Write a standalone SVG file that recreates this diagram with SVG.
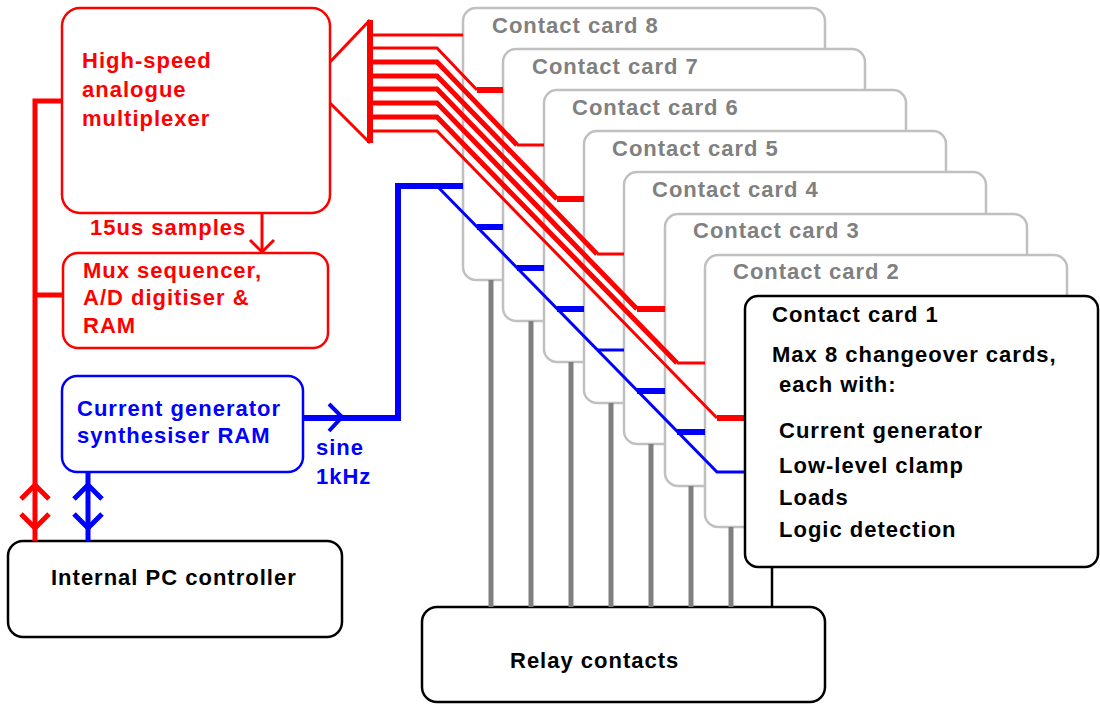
<svg xmlns="http://www.w3.org/2000/svg" width="1100" height="704" viewBox="0 0 1100 704">
<style>
text{font-family:"Liberation Sans",Arial,sans-serif;font-weight:bold;font-size:22px;letter-spacing:1px}
.r{fill:#ff0000}.b{fill:#0000ff}.k{fill:#000000}.g{fill:#808080}
.card{fill:#ffffff;stroke:#c0c0c0;stroke-width:2.5}
.rl{stroke:#ff0000;fill:none;stroke-linejoin:miter}
.bl{stroke:#0000ff;fill:none}
.gl{stroke:#808080;stroke-width:5}
</style>
<rect width="1100" height="704" fill="#ffffff"/>

<g id="mux">
<rect x="62" y="8" width="268" height="205" rx="18" fill="#ffffff" stroke="#ff0000" stroke-width="2.5"/>
<text class="r" x="82" y="68">High-speed</text>
<text class="r" x="82" y="97">analogue</text>
<text class="r" x="82" y="126">multiplexer</text>
</g>
<g id="sequencer">
<rect x="63" y="253" width="265" height="95" rx="15" fill="#ffffff" stroke="#ff0000" stroke-width="2.5"/>
<text class="r" x="83" y="278">Mux sequencer,</text>
<text class="r" x="83" y="305">A/D digitiser &amp;</text>
<text class="r" x="83" y="333">RAM</text>
</g>
<g id="generator">
<rect x="62" y="376" width="241" height="96" rx="15" fill="#ffffff" stroke="#0000ff" stroke-width="2.5"/>
<text class="b" x="77" y="416">Current generator</text>
<text class="b" x="77" y="443">synthesiser RAM</text>
</g>
<g id="pc">
<rect x="8" y="541" width="334" height="96" rx="15" fill="#ffffff" stroke="#000000" stroke-width="2.5"/>
<text class="k" x="51" y="585">Internal PC controller</text>
</g>
<g id="relay">
<rect x="422" y="607" width="403" height="95" rx="15" fill="#ffffff" stroke="#000000" stroke-width="2.5"/>
<text class="k" x="510" y="668">Relay contacts</text>
</g>

<g id="card8"><rect class="card" x="463" y="8" width="362" height="272" rx="13"/><text class="g" x="492" y="33">Contact card 8</text></g>
<g id="card7"><rect class="card" x="503" y="49" width="362" height="272" rx="13"/><text class="g" x="532" y="74">Contact card 7</text></g>
<g id="card6"><rect class="card" x="544" y="90" width="362" height="272" rx="13"/><text class="g" x="572" y="115">Contact card 6</text></g>
<g id="card5"><rect class="card" x="584" y="131" width="362" height="272" rx="13"/><text class="g" x="612" y="156">Contact card 5</text></g>
<g id="card4"><rect class="card" x="624" y="172" width="362" height="272" rx="13"/><text class="g" x="652" y="197">Contact card 4</text></g>
<g id="card3"><rect class="card" x="665" y="214" width="362" height="272" rx="13"/><text class="g" x="693" y="238">Contact card 3</text></g>
<g id="card2"><rect class="card" x="705" y="255" width="362" height="272" rx="13"/><text class="g" x="733" y="279">Contact card 2</text></g>

<g id="connectors">
<!-- red bus -->
<polyline class="rl" stroke-width="5" points="62,101 35,101 35,541"/>
<line class="rl" stroke-width="5" x1="35" y1="295" x2="63" y2="295"/>
<polyline class="rl" stroke-width="5" points="21,499 35,485 49,499"/>
<polyline class="rl" stroke-width="5" points="21,514 35,528 49,514"/>
<!-- blue bus -->
<line class="bl" stroke-width="5" x1="88" y1="472" x2="88" y2="541"/>
<polyline class="bl" stroke-width="5" points="74,499 88,485 102,499"/>
<polyline class="bl" stroke-width="5" points="74,514 88,528 102,514"/>
<!-- mux to sequencer -->
<line class="rl" stroke-width="3" x1="262" y1="213" x2="262" y2="252"/>
<polyline class="rl" stroke-width="3" points="250,240 262,252 274,240"/>
<!-- trapezoid -->
<polyline class="rl" stroke-width="3" points="330,62 370,20"/>
<polyline class="rl" stroke-width="3" points="330,103 370,143"/>
<line class="rl" stroke-width="6" x1="370" y1="20" x2="370" y2="143"/>
<!-- red lines -->
<line class="rl" stroke-width="3" x1="370" y1="35" x2="463" y2="35"/>
<polyline class="rl" stroke-width="3" points="370,48 437,48 477,90"/>
<line class="rl" stroke-width="6" x1="477" y1="90" x2="503" y2="90"/>
<polyline class="rl" stroke-width="5" points="370,62 437,62 517,145"/>
<line class="rl" stroke-width="3" x1="517" y1="145" x2="544" y2="145"/>
<polyline class="rl" stroke-width="5" points="370,76 437,76 557,199"/>
<line class="rl" stroke-width="6" x1="557" y1="199" x2="584" y2="199"/>
<polyline class="rl" stroke-width="5" points="370,89 437,89 597,254"/>
<line class="rl" stroke-width="3" x1="597" y1="254" x2="624" y2="254"/>
<polyline class="rl" stroke-width="5" points="370,103 437,103 637,309"/>
<line class="rl" stroke-width="6" x1="637" y1="309" x2="665" y2="309"/>
<polyline class="rl" stroke-width="5" points="370,117 437,117 677,363"/>
<line class="rl" stroke-width="3" x1="677" y1="363" x2="705" y2="363"/>
<polyline class="rl" stroke-width="3" points="370,131 437,131 717,418"/>
<line class="rl" stroke-width="6" x1="717" y1="418" x2="745" y2="418"/>
<!-- blue sine line -->
<polyline class="bl" stroke-width="6" points="303,418 398,418 398,186 463,186"/>
<polyline class="bl" stroke-width="4" points="329,404 342,417 329,431"/>
<polyline class="bl" stroke-width="3" points="437,186 717,472 745,472"/>
<line class="bl" stroke-width="6" x1="477" y1="227" x2="503" y2="227"/>
<line class="bl" stroke-width="6" x1="517" y1="268" x2="544" y2="268"/>
<line class="bl" stroke-width="6" x1="557" y1="309" x2="584" y2="309"/>
<line class="bl" stroke-width="3" x1="597" y1="350" x2="624" y2="350"/>
<line class="bl" stroke-width="6" x1="637" y1="391" x2="665" y2="391"/>
<line class="bl" stroke-width="6" x1="677" y1="432" x2="705" y2="432"/>
<!-- relay lines -->
<line class="gl" x1="491" y1="280" x2="491" y2="607"/>
<line class="gl" x1="531" y1="321" x2="531" y2="607"/>
<line class="gl" x1="571" y1="362" x2="571" y2="607"/>
<line class="gl" x1="611" y1="403" x2="611" y2="607"/>
<line class="gl" x1="651" y1="444" x2="651" y2="607"/>
<line class="gl" x1="691" y1="486" x2="691" y2="607"/>
<line class="gl" x1="731" y1="527" x2="731" y2="607"/>
<line stroke="#000000" stroke-width="2.5" x1="772" y1="567" x2="772" y2="607"/>
</g>

<g id="labels">
<text class="r" x="90" y="235">15us samples</text>
<text class="b" x="316" y="455">sine</text>
<text class="b" x="316" y="484">1kHz</text>
</g>

<g id="card1">
<rect x="745" y="296" width="353" height="271" rx="13" fill="#ffffff" stroke="#000000" stroke-width="2.5"/>
<text class="k" x="772" y="322">Contact card 1</text>
<text class="k" x="772" y="362">Max 8 changeover cards,</text>
<text class="k" x="779" y="392">each with:</text>
<text class="k" x="779" y="438">Current generator</text>
<text class="k" x="779" y="473">Low-level clamp</text>
<text class="k" x="779" y="505">Loads</text>
<text class="k" x="779" y="537">Logic detection</text>
</g>
</svg>
